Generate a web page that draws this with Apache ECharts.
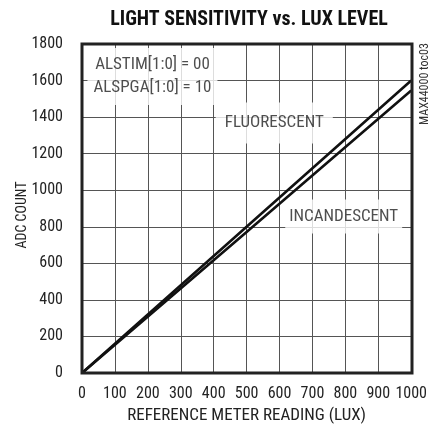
<!DOCTYPE html>
<html><head><meta charset="utf-8">
<script src="https://cdn.jsdelivr.net/npm/echarts@6/dist/echarts.min.js"></script>
<style>html,body{margin:0;padding:0;background:#fff}#c{width:430px;height:438px}</style>
</head><body><div id="c"></div>
<script>
const FONT = '"Liberation Sans Narrow", "Roboto Condensed", "Liberation Sans", sans-serif';
const xTicks = [0, 100, 200, 300, 400, 500, 600, 700, 800, 900, 1000];
const yTicks = [0, 200, 400, 600, 800, 1000, 1200, 1400, 1600, 1800];
const luxValues = [0, 500, 1000];
const fluorescent = [0, 800, 1600];
const incandescent = [0, 772, 1545];
const labelTexts = ['ALSTIM[1:0] = 00\nALSPGA[1:0] = 10', 'FLUORESCENT', 'INCANDESCENT'];
const labelPos = [[214, 1622], [584, 1368], [795, 856]];
const labelPad = [[8, 6, 3, 6], [12, 9, 6, 9], [7, 4, 4, 4]];

const chart = echarts.init(document.getElementById('c'), null, {renderer: 'canvas'});
const lineStyle = {color: '#111', width: 2.6};
chart.setOption({
  animation: false,
  title: {
    text: 'LIGHT SENSITIVITY vs. LUX LEVEL',
    left: 244, top: 5, textAlign: 'center',
    textStyle: {fontFamily: FONT, fontWeight: 'bold', fontSize: 20, color: '#111'}
  },
  grid: {left: 82, right: 18, top: 44, bottom: 65},
  xAxis: {
    type: 'value', min: 0, max: 1000, interval: 100,
    name: 'REFERENCE METER READING (LUX)', nameLocation: 'middle', nameGap: 33,
    nameTextStyle: {fontFamily: FONT, fontSize: 17, color: '#222'},
    axisLine: {show: false},
    axisTick: {show: false},
    axisLabel: {fontFamily: FONT, fontSize: 16, color: '#222', margin: 13, formatter: v => String(v)},
    splitLine: {show: true, lineStyle: {color: '#555', width: 1}}
  },
  yAxis: {
    type: 'value', min: 0, max: 1800, interval: 200,
    axisLine: {show: false},
    axisTick: {show: false},
    axisLabel: {fontFamily: FONT, fontSize: 16, color: '#222', margin: 19, formatter: v => String(v)},
    splitLine: {show: true, lineStyle: {color: '#555', width: 1}}
  },
  graphic: [
    {type: 'rect', shape: {x: 82, y: 44, width: 330, height: 329}, style: {fill: null, stroke: '#222', lineWidth: 3}, z: 100},
    {type: 'text', x: 22, y: 215, rotation: Math.PI / 2, style: {text: 'ADC COUNT', fontFamily: FONT, fontSize: 14, fill: '#222', textAlign: 'center', textVerticalAlign: 'middle'}},
    {type: 'text', x: 425, y: 84, rotation: Math.PI / 2, style: {text: 'MAX44000 toc03', fontFamily: FONT, fontSize: 12, fill: '#333', textAlign: 'center', textVerticalAlign: 'middle'}}
  ],
  series: [
    {type: 'line', data: luxValues.map((x, i) => [x, fluorescent[i]]), symbol: 'none', lineStyle, z: 12},
    {type: 'line', data: luxValues.map((x, i) => [x, incandescent[i]]), symbol: 'none', lineStyle, z: 12},
    {
      type: 'scatter', symbolSize: 1, z: 10, itemStyle: {color: 'rgba(0,0,0,0)'},
      labelLayout: {hideOverlap: false},
      data: labelPos.map((p, i) => ({value: p, label: {formatter: labelTexts[i], padding: labelPad[i]}})),
      label: {show: true, position: 'inside', fontFamily: FONT, fontSize: 17, color: '#222', backgroundColor: '#ffffff', lineHeight: 23, align: 'center', verticalAlign: 'middle'}
    }
  ]
});
</script></body></html>
